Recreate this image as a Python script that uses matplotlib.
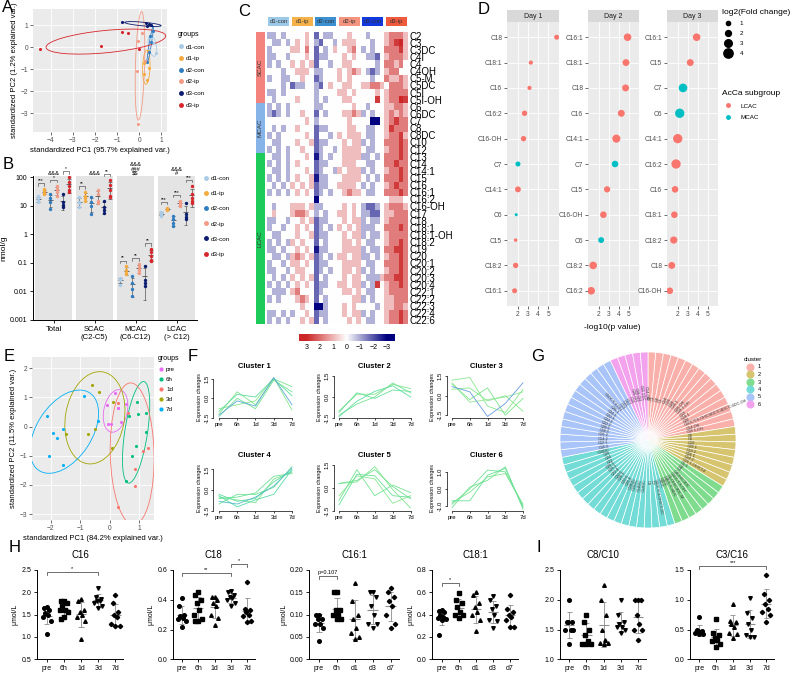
import numpy as np
import matplotlib
matplotlib.use("Agg")
import matplotlib.pyplot as plt
from matplotlib.patches import Ellipse, Rectangle
from matplotlib.lines import Line2D
from matplotlib.colors import LinearSegmentedColormap
from matplotlib.ticker import NullLocator

plt.rcParams['font.family'] = ['Liberation Sans', 'DejaVu Sans']

# ---------------- A: PCA, day x treatment ----------------
a_groups = ["d1-con", "d1-ip", "d2-con", "d2-ip", "d3-con", "d3-ip"]
a_pc1 = [[0.76, 0.55, 0.45, 0.60],
         [0.20, 0.45, 0.20, 0.35, 0.38],
         [0.50, 0.55, 0.45, 0.35, 0.60],
         [-0.05, 0.10, -0.10, -0.05, 0.25],
         [-0.80, 0.30, 0.43, 0.33, 0.55],
         [-4.50, -1.75, -0.80, -0.50, 0.00]]
a_pc2 = [[-0.26, 0.45, -0.10, 0.20],
         [-0.70, -0.95, -1.20, -1.50, -0.15],
         [0.50, 0.25, -0.20, -0.65, 0.75],
         [0.30, 0.65, -1.05, -3.50, -0.60],
         [1.15, 1.12, 1.07, 0.97, 1.02],
         [-0.05, 0.08, 0.70, 0.65, -0.05]]

# ---------------- B: acylcarnitine totals (nmol/g) ----------------
b_cats = ["Total", "SCAC\n(C2-C5)", "MCAC\n(C6-C12)", "LCAC\n(> C12)"]
b_total = [[22, 18, 15, 13], [38, 32, 28, 25], [25, 18, 14, 8],
           [50, 38, 30, 22], [25, 13, 11, 9], [100, 70, 50, 35, 30]]
b_scac = [[20, 14, 12, 9], [30, 22, 18, 15], [20, 14, 10, 5],
          [35, 25, 15, 12], [15, 9, 7, 5.5], [80, 55, 35, 22, 20]]
b_mcac = [[0.030, 0.027, 0.025, 0.017], [0.075, 0.055, 0.045, 0.040],
          [0.035, 0.020, 0.012, 0.007], [0.090, 0.070, 0.055, 0.045],
          [0.080, 0.025, 0.020, 0.016], [0.30, 0.25, 0.18, 0.13, 0.12]]
b_lcac = [[6, 5.5, 5, 4.5], [8.5, 8, 7.5, 7], [4.5, 3.5, 2.5, 2],
          [15, 12, 11, 10], [12, 5, 4, 3.5], [50, 25, 18, 15, 12]]
b_pair_stars = [["***", "*", "*"], ["**", "", "**"], ["**", "**", "**"], ["***", "***", "***"]]
b_group_marks = ["&&&", "&&&", "&&&\n###\n\\$\\$", "&&&\n#"]

# ---------------- C: heatmap (z-score, coded 0..8 around 4 = 0) ----------------
c_groups = ["d1-con", "d1-ip", "d2-con", "d2-ip", "d3-con", "d3-ip"]
c_subgroups = ["SCAC", "MCAC", "LCAC"]
c_subgroup_sizes = [10, 7, 24]
c_rows = ["C2", "C3", "C3DC", "C4I", "C4", "C4OH", "C5-M", "C5DC", "C5I", "C5I-OH",
          "C6", "C6DC", "C7", "C8", "C8DC", "C10", "C12",
          "C13", "C14", "C14:1", "C15", "C16", "C16:1", "C16:2", "C16-OH", "C17", "C18",
          "C18:1", "C18:1-OH", "C18:2", "C19", "C20", "C20:1", "C20:2", "C20:3", "C20:4",
          "C22:1", "C22:2", "C22:3", "C22:4", "C22:6"]
c_codes = [
    "33434 44454 24334 44544 43444 56665",
    "43343 45454 32443 45554 44344 56785",
    "34444 55464 24345 44564 34344 66675",
    "33443 44454 23344 45454 43324 56665",
    "34344 54545 24434 45544 44434 66564",
    "44434 45554 33444 54565 43234 56644",
    "34433 44544 23444 54544 44344 65565",
    "44434 23344 32454 45544 55665 46665",
    "33434 44444 34444 55454 44454 56666",
    "43444 45444 34344 45544 44474 56687",
    "34343 44444 33444 44454 43444 55665",
    "32343 44544 24344 45565 34344 56565",
    "44444 44454 34444 44544 44004 56766",
    "43434 45444 23344 44554 43344 57666",
    "34344 44454 24434 54555 43344 56675",
    "43344 45445 23344 45455 34344 66676",
    "34343 44544 23443 45555 43344 56676",
    "43343 44454 13434 45555 33434 66676",
    "34343 45444 23344 45554 43344 66766",
    "43343 44454 23443 54555 34344 56676",
    "34343 45445 13344 45555 43434 66676",
    "43434 54545 23344 55554 34344 56766",
    "34343 45454 23434 45655 43344 66676",
    "44444 44444 04444 44444 44444 45554",
    "43444 55545 33444 45454 32234 56665",
    "45444 56654 34344 55454 33224 55666",
    "33443 44545 23344 45455 34334 56666",
    "34434 45454 23434 54545 33344 66676",
    "43344 45445 23344 45455 34334 56666",
    "34343 54544 24344 45545 43344 56676",
    "33434 45454 13344 45555 34334 66776",
    "43343 56545 23434 55455 33434 56676",
    "34434 55454 23344 45555 43344 66676",
    "33443 45544 23434 45545 34344 56676",
    "43434 54545 24344 45455 43335 66776",
    "34343 45454 23344 55455 34374 56676",
    "43334 56444 23444 45545 43344 56666",
    "34344 45654 24344 44455 34344 55666",
    "44444 44544 00344 45454 44434 55665",
    "33434 34454 23344 45455 34344 56676",
    "34343 44545 24344 44545 43344 56676",
]
c_code_step = 0.9

# ---------------- D: bubble plot of top changed species ----------------
d_days = ["Day 1", "Day 2", "Day 3"]
d_names = [["C18", "C18:1", "C16", "C16:2", "C16-OH", "C7", "C14:1", "C6", "C15", "C18:2", "C16:1"],
           ["C16:1", "C18:1", "C18", "C16", "C14:1", "C7", "C15", "C16-OH", "C6", "C18:2", "C16:2"],
           ["C16:1", "C15", "C7", "C6", "C14:1", "C16:2", "C16", "C18:1", "C18:2", "C18", "C16-OH"]]
d_logp = [[5.82, 3.27, 3.14, 2.65, 2.55, 2.00, 2.00, 1.83, 1.77, 1.77, 1.67],
          [4.90, 4.74, 4.70, 4.27, 3.77, 3.64, 2.84, 2.47, 2.24, 1.44, 1.24],
          [3.90, 3.26, 2.53, 2.20, 2.00, 1.83, 1.73, 1.66, 1.60, 1.40, 1.20]]
d_fc = [[1.5, 1.0, 1.0, 1.7, 1.7, 1.5, 2.0, 0.3, 0.6, 1.7, 1.5],
        [3.0, 2.6, 2.6, 2.6, 3.3, 2.4, 2.2, 2.4, 2.0, 3.0, 3.0],
        [3.0, 2.6, 3.6, 4.0, 4.0, 4.0, 2.4, 2.4, 2.8, 2.6, 2.4]]
d_mcac_species = ["C6", "C7", "C8", "C10", "C12"]

# ---------------- E: PCA over time ----------------
e_groups = ["pre", "6h", "1d", "3d", "7d"]
e_pc1 = [[-0.08, 0.19, 0.30, 0.38, -0.05, 0.56, 0.05, 0.27],
         [0.93, 0.95, 1.23, 0.66, 1.23, 0.90, 0.75, 0.56],
         [0.27, 0.64, 0.29, 0.87, 0.87, 1.13, 1.30],
         [-1.48, -0.75, -0.60, -0.35, -0.49, 0.07, 0.10],
         [-2.14, -2.05, -1.93, -1.80, -1.59, -1.57, -0.87, -0.38]]
e_pc2 = [[0.72, 1.16, 0.64, 0.15, 0.10, 0.78, 0.10, 0.62],
         [0.84, 0.44, 0.48, 0.36, -0.18, -0.68, -1.00, -1.85],
         [0.80, 0.47, -2.75, -1.46, -2.03, -0.85, -0.73],
         [-0.25, -0.25, 1.41, 1.18, -0.10, -0.74, 0.84],
         [0.36, -1.00, -0.22, -0.39, -0.08, -1.31, 1.05, 0.18]]

# ---------------- F: fuzzy clusters ----------------
f_time = ["pre", "6h", "1d", "3d", "7d"]
f_lines = [
    [[-1.3, -0.2, -0.6, 1.6, -0.5], [-1.0, 0.3, 0.1, 1.5, 0.2], [-1.4, 0.0, -0.8, 1.4, 0.5],
     [-0.8, -0.5, -0.2, 1.6, -0.9], [-1.2, 0.5, -0.5, 1.5, 0.9]],
    [[-1.3, -0.5, 0.0, 1.0, 0.3], [-1.1, 0.3, -0.1, 0.5, 0.4], [-1.4, -0.3, 0.4, 0.8, 0.0],
     [-1.0, 0.2, 0.2, 0.9, 0.6]],
    [[0.7, 0.3, -1.6, -0.6, 1.0], [1.2, 1.4, -0.8, -1.3, 0.5], [0.9, -0.3, 0.6, -1.5, -0.2],
     [0.5, 0.6, -0.4, 0.0, -1.2], [1.0, -0.5, -0.3, -0.1, 0.3]],
    [[-0.8, -1.0, -0.5, 0.3, 1.6], [-0.3, -0.8, -0.6, 0.6, 1.4], [-0.6, -0.5, -0.2, 1.0, 1.2],
     [-0.4, -1.2, -0.7, -0.3, 1.5], [-1.0, -0.3, -0.3, 0.2, 1.7], [-0.5, -0.7, -0.9, 0.8, 1.3]],
    [[0.3, 0.5, 1.2, 0.1, -0.7], [-1.1, 0.9, 0.8, -0.5, -0.6], [-0.8, 1.2, -0.5, 0.2, -0.3],
     [0.3, 0.4, 1.4, -0.1, -1.3], [-0.5, 0.8, 0.6, -1.0, -0.5]],
    [[-0.7, -0.7, 0.8, 1.2, -1.1], [-0.9, 0.0, 1.1, 1.0, -1.0], [-1.1, 0.1, 0.5, 1.3, -1.2],
     [-0.8, -0.2, 0.7, 0.9, -0.9]],
]
f_membership = [[0.9, 0.5, 0.4, 0.3, 0.35], [0.4, 0.45, 0.5, 0.35], [0.95, 0.3, 0.35, 0.3, 0.25],
                [0.8, 0.5, 0.45, 0.55, 0.4, 0.35], [0.4, 0.45, 0.4, 0.35, 0.3], [0.45, 0.4, 0.4, 0.35]]

# ---------------- G: cluster membership pie ----------------
g_clusters = ["1", "2", "3", "4", "5", "6"]
g_members = [
    ["C2", "C3", "C4", "C5", "C14", "C16", "C18", "C18:1", "C16-OH", "C18:1-OH", "C12",
     "C14:1", "C20", "C5DC/C6-OH/C6DC/C4DC/Ci4DC-OH", "C14-OH", "C16:1-OH"],
    ["C8", "C6", "C10", "C10:1", "C12:1", "C16:1", "C14:2", "C16:1-OH/C14"],
    ["C5:1", "C4", "C3", "C4OH/C3DC", "C5DC/C6-OH", "C5-OH/C3DC-M", "C4DC/Ci4DC", "C3DC"],
    ["C8DC", "C6DC/C4-OH/C5-DC", "C7", "C9", "C12DC", "C14DC", "C16DC", "C18DC", "C20:4",
     "C22:6", "C20:3", "C22:5", "C22:4", "C20:2", "C20:1", "C22", "C24", "C26", "C10DC"],
    ["C10:3", "C12:1", "C14:2", "C16:2", "C18:3", "C20:5", "C22:1", "C22:2", "C22:3",
     "C24:1", "C26:1", "C5DC/C4-OH", "C13", "C15", "C17"],
    ["C19", "C20-OH", "C18-OH", "C16:1DC", "C14-OH"],
]

# ---------------- H / I: plasma acylcarnitines (umol/L) ----------------
h_c16 = [[1.68, 1.66, 1.60, 1.53, 1.50, 1.45, 1.35, 1.07],
         [1.80, 1.80, 1.75, 1.70, 1.60, 1.60, 1.55, 1.45, 1.40],
         [1.85, 1.80, 1.60, 1.55, 1.50, 1.45, 1.35, 0.95],
         [2.10, 1.90, 1.85, 1.80, 1.80, 1.75, 1.70, 1.65],
         [1.95, 1.75, 1.55, 1.50, 1.45, 1.30, 1.25, 1.25]]
h_c18 = [[0.41, 0.36, 0.30, 0.29, 0.28, 0.27, 0.26, 0.22],
         [0.45, 0.43, 0.40, 0.38, 0.33, 0.30, 0.27, 0.26, 0.26],
         [0.42, 0.42, 0.40, 0.38, 0.36, 0.30, 0.28, 0.23],
         [0.46, 0.45, 0.43, 0.42, 0.41, 0.40, 0.38, 0.36],
         [0.52, 0.34, 0.33, 0.32, 0.30, 0.29, 0.26, 0.25]]
h_c16_1 = [[0.10, 0.10, 0.09, 0.09, 0.08, 0.08, 0.07, 0.04],
           [0.15, 0.15, 0.11, 0.11, 0.10, 0.10, 0.09, 0.09],
           [0.17, 0.13, 0.10, 0.09, 0.07, 0.06, 0.05, 0.045],
           [0.15, 0.15, 0.14, 0.12, 0.10, 0.08, 0.08, 0.07],
           [0.16, 0.15, 0.14, 0.13, 0.12, 0.10, 0.08, 0.07]]
h_c18_1 = [[0.44, 0.43, 0.42, 0.40, 0.38, 0.37, 0.36, 0.35, 0.22],
           [0.59, 0.53, 0.50, 0.47, 0.42, 0.40, 0.40, 0.37],
           [0.60, 0.58, 0.50, 0.47, 0.42, 0.40, 0.35, 0.25],
           [0.57, 0.53, 0.48, 0.45, 0.40, 0.35, 0.34, 0.28],
           [0.58, 0.45, 0.42, 0.40, 0.38, 0.35, 0.29, 0.29]]
i_c8_c10 = [[2.00, 1.62, 1.62, 1.62, 1.50, 1.50, 1.50, 1.25],
            [1.75, 1.62, 1.50, 1.40, 1.30, 1.25, 1.25, 1.25],
            [2.25, 2.00, 1.75, 1.50, 1.33, 1.28, 1.28, 1.25],
            [2.00, 1.75, 1.62, 1.60, 1.55, 1.55, 1.50, 1.45],
            [2.00, 2.00, 2.00, 1.75, 1.60, 1.50, 1.50, 1.33]]
i_c3_c16 = [[0.71, 0.50, 0.48, 0.47, 0.46, 0.45, 0.43, 0.42],
            [0.67, 0.45, 0.40, 0.35, 0.33, 0.30, 0.25, 0.20],
            [0.93, 0.65, 0.62, 0.60, 0.55, 0.45, 0.42, 0.35],
            [1.03, 0.78, 0.70, 0.60, 0.50, 0.40, 0.38, 0.37],
            [1.42, 1.10, 1.00, 0.93, 0.85, 0.80, 0.75, 0.62]]
time_labels_a = ["pre", "6h", "1d", "3d", "7d"]
time_labels_b = ["pre", "6h", "d1", "d3", "d7"]

# ---------------- styles ----------------
a_colors = ["#A9CBE6", "#F4AA3C", "#2F7CC0", "#F39A84", "#0B1B6E", "#D7262B"]
e_colors = ["#E76BF3", "#00BF7D", "#F8766D", "#A3A500", "#00B0F6"]
c_head_colors = ["#9DC9E8", "#F6B24A", "#3C8FD0", "#F4937E", "#1238E0", "#F05A3C"]
c_side_colors = ["#F4837D", "#86B4E8", "#1DCB5B"]
d_colors = {"LCAC": "#F8766D", "MCAC": "#00BFC4"}
g_colors = ["#F9B0AA", "#D6C46E", "#7FDC8E", "#73DCD6", "#A9C4F8", "#F3A3EE"]

W, H = 794, 674
fig = plt.figure(figsize=(W / 100, H / 100), dpi=100)


def fx(x):
    return x / W


def fy(y):
    return 1 - y / H


def box(x0, y0, x1, y1):
    return fig.add_axes([x0 / W, 1 - y1 / H, (x1 - x0) / W, (y1 - y0) / H])


def letter(x, y, s):
    fig.text(fx(x), fy(y), s, fontsize=12, ha='left', va='top')


def gg_style(ax):
    ax.set_facecolor('#EBEBEB')
    for s in ax.spines.values():
        s.set_visible(False)
    ax.grid(True, color='white', lw=0.6)
    ax.set_axisbelow(True)
    ax.tick_params(length=2, width=0.5, color='#333333', labelsize=4.8,
                   labelcolor='#4D4D4D', pad=1.5)


def prism_style(ax):
    for s in ['top', 'right']:
        ax.spines[s].set_visible(False)
    for s in ['left', 'bottom']:
        ax.spines[s].set_linewidth(0.7)
    ax.tick_params(length=2.5, width=0.6, labelsize=5, pad=1.5)


def conf_ellipse(ax, x, y, color, r):
    x = np.asarray(x)
    y = np.asarray(y)
    vals, vecs = np.linalg.eigh(np.cov(x, y))
    ang = np.degrees(np.arctan2(vecs[1, 1], vecs[0, 1]))
    ax.add_patch(Ellipse((x.mean(), y.mean()), 2 * r * np.sqrt(vals[1]), 2 * r * np.sqrt(vals[0]),
                         angle=ang, fill=False, ec=color, lw=0.6))


def group_legend(labels, colors, anchor, title=None, spacing=0.9, ms=2.5):
    handles = [Line2D([], [], ls='', marker='o', color=c, markersize=ms) for c in colors]
    leg = fig.legend(handles, labels, title=title, loc='upper left', bbox_to_anchor=anchor,
                     frameon=False, fontsize=4.5, title_fontsize=5, handlelength=0.8,
                     handletextpad=0.5, labelspacing=spacing, alignment='left',
                     borderaxespad=0, borderpad=0)
    return leg


# ================= A =================
letter(2, 0, "A")
axA = box(33, 9, 167, 132)
gg_style(axA)
for px, py, c in zip(a_pc1, a_pc2, a_colors):
    axA.scatter(px, py, s=5, color=c, zorder=3, lw=0)
    conf_ellipse(axA, px, py, c, 1.51)
axA.set_xlim(-4.8, 1.25)
axA.set_ylim(-3.85, 1.75)
axA.set_xticks([-4, -3, -2, -1, 0, 1])
axA.set_yticks([-3, -2, -1, 0, 1])
axA.set_xlabel("standardized PC1 (95.7% explained var.)", fontsize=5.5, labelpad=2)
axA.set_ylabel("standardized PC2 (1.2% explained var.)", fontsize=5.5, labelpad=2)
group_legend(a_groups, a_colors, (fx(178), fy(31)), title="groups", spacing=1.0)

# ================= B =================
letter(3, 157, "B")
axB = box(33, 176, 197, 320)
prism_style(axB)
axB.set_yscale('log')
axB.set_ylim(0.001, 110)
axB.set_xlim(-0.5, 3.5)
b_all = [b_total, b_scac, b_mcac, b_lcac]
for i, groups in enumerate(b_all):
    axB.axvspan(i - 0.46, i + 0.46, color='#E4E4E4', zorder=0, lw=0)
    xs = []
    for j, vals in enumerate(groups):
        x = i + (j - 2.5) * 0.15
        xs.append(x)
        v = np.array(vals, dtype=float)
        axB.scatter(np.full(len(v), x), v, s=6, color=a_colors[j], zorder=3, lw=0)
        m, sd = v.mean(), v.std(ddof=1)
        lo = max(m - sd, 0.004)
        axB.vlines(x, lo, m + sd, color='#333333', lw=0.4, zorder=2)
        axB.hlines([lo, m + sd], x - 0.04, x + 0.04, color='#333333', lw=0.4, zorder=2)
        axB.hlines(m, x - 0.06, x + 0.06, color='#333333', lw=0.5, zorder=2)
    for p in range(3):
        star = b_pair_stars[i][p]
        if not star:
            continue
        x1, x2 = xs[2 * p], xs[2 * p + 1]
        top = max(max(groups[2 * p]), max(groups[2 * p + 1])) * 1.6
        axB.plot([x1, x1, x2, x2], [top / 1.2, top, top, top / 1.2], color='#333333',
                 lw=0.4, clip_on=False)
        axB.text((x1 + x2) / 2, top * 1.02, star, ha='center', va='bottom', fontsize=3.5,
                 clip_on=False)
    axB.text(i, 1.0, b_group_marks[i], transform=axB.get_xaxis_transform(), ha='center',
             va='bottom', fontsize=4.2, linespacing=0.85)
axB.set_xticks(range(4))
axB.set_xticklabels(b_cats, fontsize=5.5)
axB.set_yticks([0.001, 0.01, 0.1, 1, 10, 100])
axB.set_yticklabels(["0.001", "0.01", "0.1", "1", "10", "100"])
axB.yaxis.set_minor_locator(NullLocator())
axB.set_ylabel("nmol/g", fontsize=6, labelpad=2)
group_legend(a_groups, a_colors, (fx(203), fy(176)), spacing=1.55)

# ================= C =================
letter(238, 4, "C")
heat = np.array([[(int(ch) - 4) * c_code_step for ch in row.replace(" ", "")] for row in c_codes])
cmap_c = LinearSegmentedColormap.from_list("rwb", ["#000080", "#FFFFFF", "#CD2626"])
axC = box(267, 32, 408, 324)
axC.imshow(heat, cmap=cmap_c, vmin=-3, vmax=3, aspect='auto', interpolation='nearest')
axC.set_xticks([])
axC.set_yticks(range(len(c_rows)))
axC.set_yticklabels(c_rows, fontsize=7)
axC.yaxis.tick_right()
axC.tick_params(axis='y', length=0, pad=1)
for s in axC.spines.values():
    s.set_visible(False)

axCh = box(267, 17, 408, 26)
axCh.set_xlim(0, len(c_groups))
axCh.set_ylim(0, 1)
axCh.axis('off')
for g, (name, col) in enumerate(zip(c_groups, c_head_colors)):
    axCh.add_patch(Rectangle((g + 0.06, 0), 0.88, 1, fc=col, ec='none'))
    axCh.text(g + 0.5, 0.5, name, ha='center', va='center', fontsize=4.3, color='#333333')

axCs = box(256, 32, 265, 324)
axCs.set_xlim(0, 1)
axCs.set_ylim(sum(c_subgroup_sizes), 0)
axCs.axis('off')
start = 0
for name, n, col in zip(c_subgroups, c_subgroup_sizes, c_side_colors):
    axCs.add_patch(Rectangle((0, start), 1, n, fc=col, ec='none'))
    axCs.text(0.5, start + n / 2, name, rotation=90, ha='center', va='center', fontsize=4.5,
              color='#333333')
    start += n

axCb = box(299, 334, 395, 341)
grad = np.linspace(3.55, -3.6, 256)[None, :]
axCb.imshow(grad, cmap=cmap_c, vmin=-3, vmax=3, aspect='auto', extent=[3.55, -3.6, 0, 1])
axCb.set_yticks([])
axCb.set_xticks([3, 2, 1, 0, -1, -2, -3])
axCb.set_xticklabels(["3", "2", "1", "0", "\u22121", "\u22122", "\u22123"], fontsize=5)
axCb.tick_params(axis='x', length=0, pad=2)
for s in axCb.spines.values():
    s.set_visible(False)

# ================= D =================
letter(478, 2, "D")


def bubble_size(fc):
    return ((2.5 + 1.7 * np.asarray(fc)) / 1.389) ** 2


d_rects = [(507, 22, 559, 306), (588, 22, 639, 306), (667, 22, 718, 306)]
for k, day in enumerate(d_days):
    ax = box(*d_rects[k])
    gg_style(ax)
    yy = np.arange(len(d_names[k]))
    cols = [d_colors["MCAC" if n in d_mcac_species else "LCAC"] for n in d_names[k]]
    ax.scatter(d_logp[k], yy, s=bubble_size(d_fc[k]), c=cols, lw=0, zorder=3)
    ax.set_xlim(0.92, 6.05)
    ax.set_ylim(len(yy) - 0.4, -0.6)
    ax.set_xticks([2, 3, 4, 5])
    ax.set_yticks(yy)
    ax.set_yticklabels(d_names[k])
    ax.add_patch(Rectangle((0, 1), 1, 12 / 284, transform=ax.transAxes, clip_on=False,
                           fc='#D9D9D9', ec='none'))
    ax.text(0.5, 1 + 6 / 284, day, transform=ax.transAxes, ha='center', va='center',
            fontsize=5, color='#1A1A1A')
fig.text(fx(612), fy(327), "-log10(p value)", ha='center', va='center', fontsize=6)

size_keys = [1, 2, 3, 4]
size_handles = [Line2D([], [], ls='', marker='o', color='black',
                       markersize=np.sqrt(bubble_size(v))) for v in size_keys]
fig.legend(size_handles, [str(v) for v in size_keys], title="log2(Fold change)", loc='upper left',
           bbox_to_anchor=(fx(722), fy(9)), frameon=False, fontsize=4.5, title_fontsize=6,
           alignment='left', labelspacing=0.75, handletextpad=0.8, borderaxespad=0, borderpad=0)
sub_handles = [Line2D([], [], ls='', marker='o', color=d_colors[n], markersize=2.5)
               for n in ["LCAC", "MCAC"]]
fig.legend(sub_handles, ["LCAC", "MCAC"], title="AcCa subgroup", loc='upper left',
           bbox_to_anchor=(fx(722), fy(90)), frameon=False, fontsize=4.5, title_fontsize=6,
           alignment='left', labelspacing=1.0, handletextpad=1.0, borderaxespad=0, borderpad=0)

# ================= E =================
letter(4, 349, "E")
axE = box(32, 357, 154, 520)
gg_style(axE)
for px, py, c in zip(e_pc1, e_pc2, e_colors):
    axE.scatter(px, py, s=5, color=c, zorder=3, lw=0)
    conf_ellipse(axE, px, py, c, 1.9)
axE.set_xlim(-2.64, 1.51)
axE.set_ylim(-3.2, 2.38)
axE.set_xticks([-2, -1, 0, 1])
axE.set_yticks([-3, -2, -1, 0, 1, 2])
axE.set_xlabel("standardized PC1 (84.2% explained var.)", fontsize=5.5, labelpad=2)
axE.set_ylabel("standardized PC2 (11.5% explained var.)", fontsize=5.5, labelpad=2)
group_legend(e_groups, e_colors, (fx(158), fy(355)), title="groups", spacing=0.75, ms=2)

# ================= F =================
letter(188, 349, "F")
cmap_f = LinearSegmentedColormap.from_list("mf", ["#C6F5B0", "#7FE58A", "#3ED6B4", "#6F93EA"])
f_rects = [(213.5, 376, 295.6, 418), (333.6, 376, 414.2, 418), (446.7, 376, 526.6, 418),
           (213.5, 465, 295.6, 511), (333.6, 465, 414.2, 511), (446.7, 465, 526.6, 511)]
for k, lines in enumerate(f_lines):
    ax = box(*f_rects[k])
    xs = np.arange(1, len(f_time) + 1)
    order = np.argsort(f_membership[k])
    for idx in order:
        ax.plot(xs, lines[idx], color=cmap_f(f_membership[k][idx]), lw=0.6)
    arr = np.array(lines)
    lo, hi = arr.min(), arr.max()
    pad = 0.04 * (hi - lo)
    ax.set_ylim(lo - pad, hi + pad)
    ax.set_xlim(0.7, 5.2)
    ticks = [-1.0, 0.0, 1.0] if k == 5 else [-1.5, 0.0, 1.5]
    ax.set_yticks(ticks)
    ax.set_yticklabels(["%.1f" % t for t in ticks], rotation=90, va='center')
    ax.set_xticks(xs)
    ax.set_xticklabels(f_time)
    for s in ['top', 'right']:
        ax.spines[s].set_visible(False)
    ax.spines['left'].set_bounds(ticks[0], ticks[-1])
    ax.spines['bottom'].set_bounds(1, 5)
    for s in ['left', 'bottom']:
        ax.spines[s].set_linewidth(0.5)
    ax.tick_params(length=1.5, width=0.5, labelsize=4.3, pad=1.5)
    ax.set_ylabel("Expression changes", fontsize=3.8, labelpad=2)
    ax.set_title("Cluster %d" % (k + 1), fontsize=5.5, fontweight='bold', pad=6)

# ================= G =================
letter(531, 349, "G")
axG = box(560, 352, 736, 528)
wedge_colors = []
wedge_names = []
for c, members in enumerate(g_members):
    wedge_colors += [g_colors[c]] * len(members)
    wedge_names += members
wedges, _ = axG.pie(np.ones(len(wedge_names)), colors=wedge_colors, startangle=90,
                    counterclock=False, wedgeprops=dict(edgecolor='white', linewidth=0.5))
axG.set_xlim(-1, 1)
axG.set_ylim(-1, 1)
for w, name in zip(wedges, wedge_names):
    th = np.deg2rad((w.theta1 + w.theta2) / 2)
    deg = np.rad2deg(th) % 360
    right = np.cos(th) >= 0
    rot = deg if right else deg - 180
    axG.text(0.45 * np.cos(th), 0.45 * np.sin(th), name, rotation=rot, rotation_mode='anchor',
             ha='left' if right else 'right', va='center', fontsize=2.8, color='#333333')
g_handles = [Line2D([], [], ls='', marker='o', color=c, markersize=4.8) for c in g_colors]
fig.legend(g_handles, g_clusters, title="cluster", loc='upper left', bbox_to_anchor=(fx(744), fy(357)),
           frameon=False, fontsize=4, title_fontsize=4.5, alignment='left', labelspacing=0.45,
           handletextpad=0.5, borderaxespad=0, borderpad=0)

# ================= H / I =================
letter(9, 540, "H")
letter(536, 540, "I")
markers = ['o', 's', '^', 'v', 'D']
spread = [0.0, -0.16, 0.16, -0.08, 0.08, -0.24, 0.24, 0.0, -0.16]


def dot_panel(x0, unit, values, xlabels, title, ylim, yticks, ylabel, brackets):
    ax = box(x0, 570, x0 + 5 * unit, 659.3)
    prism_style(ax)
    for k, vals in enumerate(values):
        v = np.array(vals, dtype=float)
        order = np.argsort(-v)
        xs = np.empty(len(v))
        xs[order] = k + 1 + np.array(spread[:len(v)])
        ms = 2.6 if markers[k] != 'D' else 2.2
        ax.plot(xs, v, ls='', marker=markers[k], color='black', ms=ms, zorder=3)
        m, sd = v.mean(), v.std(ddof=1)
        ax.hlines(m, k + 1 - 0.3, k + 1 + 0.3, color='#8C8C8C', lw=0.8, zorder=2)
        ax.vlines(k + 1, m - sd, m + sd, color='#8C8C8C', lw=0.6, zorder=2)
        ax.hlines([m - sd, m + sd], k + 1 - 0.15, k + 1 + 0.15, color='#8C8C8C', lw=0.6, zorder=2)
    ax.set_xlim(0.45, 5.45)
    ax.set_ylim(*ylim)
    ax.set_yticks(yticks)
    ax.set_xticks(range(1, 6))
    ax.set_xticklabels(xlabels)
    ax.set_title(title, fontsize=7, pad=9)
    if ylabel:
        ax.set_ylabel(ylabel, fontsize=5, labelpad=2)
    rng = ylim[1] - ylim[0]
    for i1, i2, yb, lab in brackets:
        ax.plot([i1 + 1, i1 + 1, i2 + 1, i2 + 1], [yb - 0.03 * rng, yb, yb, yb - 0.03 * rng],
                color='#333333', lw=0.5, clip_on=False)
        ax.text((i1 + i2) / 2 + 1, yb + 0.01 * rng, lab, ha='center', va='bottom', fontsize=4,
                clip_on=False)
    return ax


dot_panel(37.2, 17.2, h_c16, time_labels_a, "C16", (0.5, 2.5),
          [0.5, 1.0, 1.5, 2.0, 2.5], "\u03bcmol/L", [(0, 3, 2.45, "*")])
dot_panel(172.7, 16.4, h_c18, time_labels_a, "C18", (0.0, 0.6),
          [0.0, 0.2, 0.4, 0.6], "\u03bcmol/L", [(0, 3, 0.58, "**"), (3, 4, 0.64, "*")])
dot_panel(309.2, 17.9, h_c16_1, time_labels_b, "C16:1", (0.0, 0.2),
          [0.0, 0.05, 0.10, 0.15, 0.20], "\u03bcmol/L", [(0, 1, 0.186, "p=0.107")])
dot_panel(432.3, 17.1, h_c18_1, time_labels_b, "C18:1", (0.0, 0.8),
          [0.0, 0.2, 0.4, 0.6, 0.8], "\u03bcmol/L", [(0, 1, 0.68, "*")])
dot_panel(559.8, 17.2, i_c8_c10, time_labels_a, "C8/C10", (1.0, 2.5),
          [1.0, 1.5, 2.0, 2.5], None, [])
dot_panel(690.0, 16.8, i_c3_c16, time_labels_a, "C3/C16", (0.0, 1.5),
          [0.0, 0.5, 1.0, 1.5], None, [(0, 4, 1.56, "***")])

fig.savefig("out.png", dpi=100)
